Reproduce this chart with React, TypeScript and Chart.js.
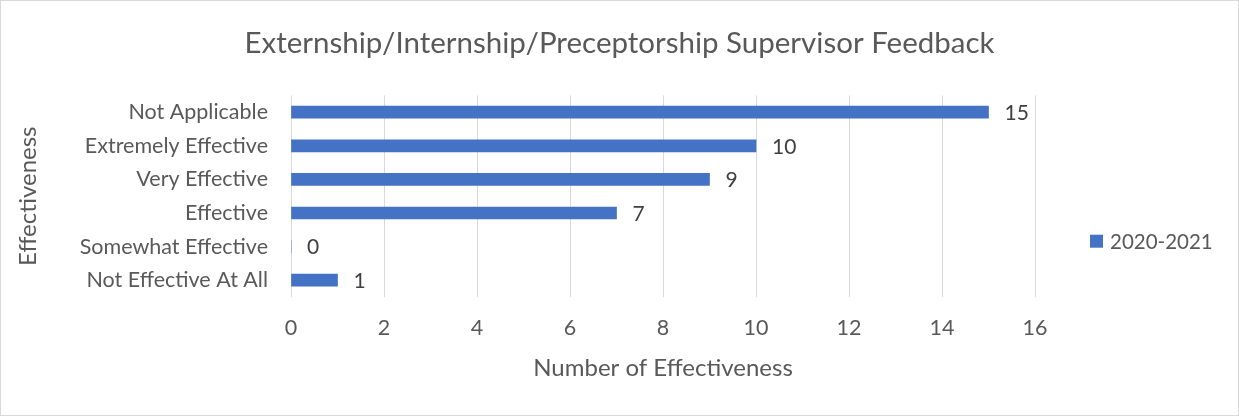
import React, { useEffect, useRef } from "react";
import { Chart, registerables } from "chart.js";

Chart.register(...registerables);

const title = "Externship/Internship/Preceptorship Supervisor Feedback";
const categories = [
  "Not Applicable",
  "Extremely Effective",
  "Very Effective",
  "Effective",
  "Somewhat Effective",
  "Not Effective At All",
];
const seriesLabel = "2020-2021";
const seriesValues = [15, 10, 9, 7, 0, 1];
const xMin = 0;
const xMax = 16;
const xStep = 2;
const xTitle = "Number of Effectiveness";
const yTitle = "Effectiveness";

const FONT = "Lato";
const TEXT = "#595959";
const BAR = "#4472C4";
const GRID = "#d9d9d9";

const dataLabelPlugin = {
  id: "dataLabels",
  afterDatasetsDraw(chart: any) {
    const ctx = chart.ctx;
    const meta = chart.getDatasetMeta(0);
    ctx.save();
    ctx.font = `21px ${FONT}`;
    ctx.fillStyle = "#404040";
    ctx.textAlign = "left";
    ctx.textBaseline = "middle";
    meta.data.forEach((el: any, i: number) => {
      ctx.fillText(String(seriesValues[i]), el.x + 16, el.y + 1);
    });
    ctx.restore();
  },
};

const legendPlugin = {
  id: "customLegend",
  afterDraw(chart: any) {
    const ctx = chart.ctx;
    const a = chart.chartArea;
    const x = a.right + 55;
    const cy = (a.top + a.bottom) / 2 + 45;
    ctx.save();
    ctx.fillStyle = BAR;
    ctx.fillRect(x, cy - 6.5, 13, 13);
    ctx.font = `20.5px ${FONT}`;
    ctx.fillStyle = TEXT;
    ctx.textAlign = "left";
    ctx.textBaseline = "middle";
    ctx.fillText(seriesLabel, x + 20, cy + 1);
    ctx.restore();
  },
};

export default function App() {
  const ref = useRef<HTMLCanvasElement | null>(null);
  useEffect(() => {
    if (!ref.current) return;
    const chart = new Chart(ref.current, {
      type: "bar",
      data: {
        labels: categories,
        datasets: [
          {
            label: seriesLabel,
            data: seriesValues,
            backgroundColor: BAR,
            barThickness: 12,
          },
        ],
      },
      options: {
        indexAxis: "y",
        responsive: false,
        animation: false,
        layout: { padding: { left: 0, right: 0, top: 0, bottom: 0 } },
        plugins: {
          legend: { display: false },
          tooltip: { enabled: false },
          title: {
            display: true,
            text: title,
            color: TEXT,
            font: { family: FONT, size: 29.5, weight: "normal" },
            padding: { top: 25, bottom: 34 },
          },
        },
        scales: {
          x: {
            min: xMin,
            max: xMax,
            ticks: {
              stepSize: xStep,
              color: TEXT,
              font: { family: FONT, size: 21.5 },
              padding: 18,
            },
            grid: { color: GRID, drawTicks: false },
            border: { display: false },
            title: {
              display: true,
              text: xTitle,
              color: TEXT,
              font: { family: FONT, size: 24 },
              padding: { top: 0, bottom: 32.5 },
            },
            afterFit: (s: any) => {
              s.height = 118;
            },
          },
          y: {
            ticks: {
              color: TEXT,
              font: { family: FONT, size: 21.5 },
              padding: 15,
            },
            grid: { display: false },
            border: { display: false },
            title: {
              display: true,
              text: yTitle,
              color: TEXT,
              font: { family: FONT, size: 24 },
              padding: { top: 12.5, bottom: 0 },
            },
            afterFit: (s: any) => {
              s.width = 290;
            },
          },
          yR: {
            type: "category",
            labels: categories,
            position: "right",
            grid: { display: false, drawOnChartArea: false },
            border: { display: false },
            ticks: { display: false },
            afterFit: (s: any) => {
              s.width = 203;
            },
          },
        },
      },
      plugins: [dataLabelPlugin, legendPlugin],
    } as any);
    return () => chart.destroy();
  }, []);

  return (
    <div
      style={{
        position: "absolute",
        left: 0,
        top: 0,
        width: 1239,
        height: 416,
        boxSizing: "border-box",
        border: "1px solid #d9d9d9",
        background: "#fff",
      }}
    >
      <canvas ref={ref} width={1237} height={414} style={{ display: "block" }} />
    </div>
  );
}
